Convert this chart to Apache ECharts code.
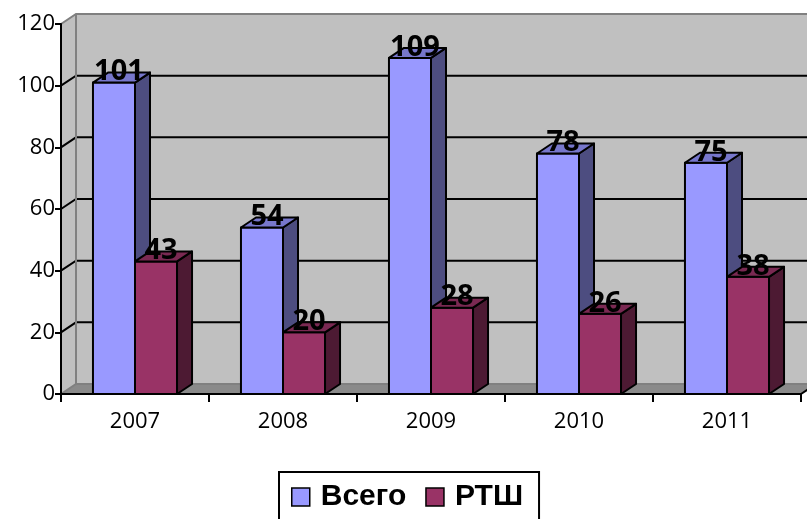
<!DOCTYPE html>
<html>
<head>
<meta charset="utf-8">
<script src="https://cdn.jsdelivr.net/npm/echarts@6/dist/echarts.min.js"></script>
<style>
html,body{margin:0;padding:0;background:#fff;}
#chart{width:807px;height:519px;}
</style>
</head>
<body>
<div id="chart"></div>
<script>
var categories = ['2007', '2008', '2009', '2010', '2011'];
var vsego = [101, 54, 109, 78, 75];
var rtsh = [43, 20, 28, 26, 38];
var yTicks = [0, 20, 40, 60, 80, 100, 120];
var seriesNames = ['Всего', 'РТШ'];

var DX = 15, DY = -10;

function wallRender(params, api) {
  var cs = params.coordSys;
  var x = cs.x, y = cs.y, w = cs.width, h = cs.height;
  var children = [];
  children.push({type: 'polygon', shape: {points: [[x + DX, y + DY], [x + w + DX, y + DY], [x + w + DX, y + h + DY], [x + DX, y + h + DY]]}, style: {fill: '#c0c0c0'}});
  children.push({type: 'polygon', shape: {points: [[x, y], [x + DX, y + DY], [x + DX, y + h + DY], [x, y + h]]}, style: {fill: '#c0c0c0'}});
  children.push({type: 'polygon', shape: {points: [[x, y + h], [x + DX, y + h + DY], [x + w + DX, y + h + DY], [x + w, y + h]]}, style: {fill: '#8a8a8a'}});
  for (var i = 0; i < yTicks.length; i++) {
    var v = yTicks[i];
    var yy = api.coord([0, v])[1];
    var isEdge = (i === 0 || i === yTicks.length - 1);
    children.push({type: 'polyline', shape: {points: [[x, yy], [x + DX, yy + DY], [x + w + DX, yy + DY]]},
      style: {stroke: isEdge ? '#808080' : '#000', lineWidth: 2, fill: null}});
  }
  children.push({type: 'line', shape: {x1: x + DX, y1: y + DY, x2: x + DX, y2: y + h + DY}, style: {stroke: '#808080', lineWidth: 2}});
  children.push({type: 'line', shape: {x1: x + w, y1: y + h, x2: x + w + DX, y2: y + h + DY}, style: {stroke: '#000', lineWidth: 2}});
  return {type: 'group', children: children};
}

function makeBar(side, front, topC, sideC) {
  return function (params, api) {
    var cat = api.value(0), v = api.value(1);
    var top = api.coord([cat, v]);
    var base = api.coord([cat, 0]);
    var band = api.size([1, 0])[0];
    var bw = band * 0.284;
    var x0 = side < 0 ? top[0] - bw : top[0];
    var x1 = x0 + bw;
    var yt = top[1], yb = base[1];
    var stroke = {stroke: '#000', lineWidth: 2, lineJoin: 'round'};
    return {type: 'group', children: [
      {type: 'polygon', shape: {points: [[x0, yb], [x0, yt], [x1, yt], [x1, yb]]}, style: Object.assign({fill: front}, stroke)},
      {type: 'polygon', shape: {points: [[x1, yb], [x1 + DX, yb + DY], [x1 + DX, yt + DY], [x1, yt]]}, style: Object.assign({fill: sideC}, stroke)},
      {type: 'polygon', shape: {points: [[x0, yt], [x0 + DX, yt + DY], [x1 + DX, yt + DY], [x1, yt]]}, style: Object.assign({fill: topC}, stroke)},
      {type: 'text', style: {text: String(v), x: (x0 + x1) / 2 + 5, y: yt + 4, align: 'center', verticalAlign: 'bottom',
        font: 'bold 29px "Open Sans"', fill: '#000'}}
    ]};
  };
}

var chart = echarts.init(document.getElementById('chart'), null, {renderer: 'canvas'});
chart.setOption({
  animation: false,
  backgroundColor: '#fff',
  grid: {left: 61, right: 6, top: 24, bottom: 125, containLabel: false},
  xAxis: {
    type: 'category', data: categories, boundaryGap: true,
    axisLine: {lineStyle: {color: '#000', width: 2}},
    axisTick: {show: true, length: 8, lineStyle: {color: '#000', width: 2}},
    axisLabel: {color: '#000', fontFamily: 'Open Sans', fontSize: 22, margin: 17},
    z: 10
  },
  yAxis: {
    type: 'value', min: 0, max: 120, interval: 20,
    axisLine: {show: true, lineStyle: {color: '#000', width: 2}},
    axisTick: {show: true, length: 6, lineStyle: {color: '#000', width: 2}},
    axisLabel: {color: '#000', fontFamily: 'Open Sans', fontSize: 22, margin: 6},
    splitLine: {show: false},
    z: 10
  },
  legend: {
    data: seriesNames,
    left: 279, top: 472,
    padding: [10, 16, 20, 12],
    borderColor: '#000', borderWidth: 2,
    icon: 'rect', itemWidth: 18, itemHeight: 18, itemGap: 19,
    itemStyle: {borderColor: '#000', borderWidth: 1.5},
    textStyle: {color: '#000', fontFamily: 'Liberation Sans', fontWeight: 'bold', fontSize: 30, padding: [0, 0, 0, 6]}
  },
  series: [
    {type: 'custom', name: 'wall', renderItem: wallRender, data: [[0, 0]], z: 1, silent: true, clip: false},
    {type: 'custom', name: seriesNames[0], renderItem: makeBar(-1, '#9999ff', '#7777cc', '#4d4d80'),
      itemStyle: {color: '#9999ff'}, data: vsego.map(function (v, i) { return [i, v]; }), z: 3, clip: false},
    {type: 'custom', name: seriesNames[1], renderItem: makeBar(1, '#993366', '#7a2952', '#4d1a33'),
      itemStyle: {color: '#993366'}, data: rtsh.map(function (v, i) { return [i, v]; }), z: 4, clip: false}
  ]
});
</script>
</body>
</html>
